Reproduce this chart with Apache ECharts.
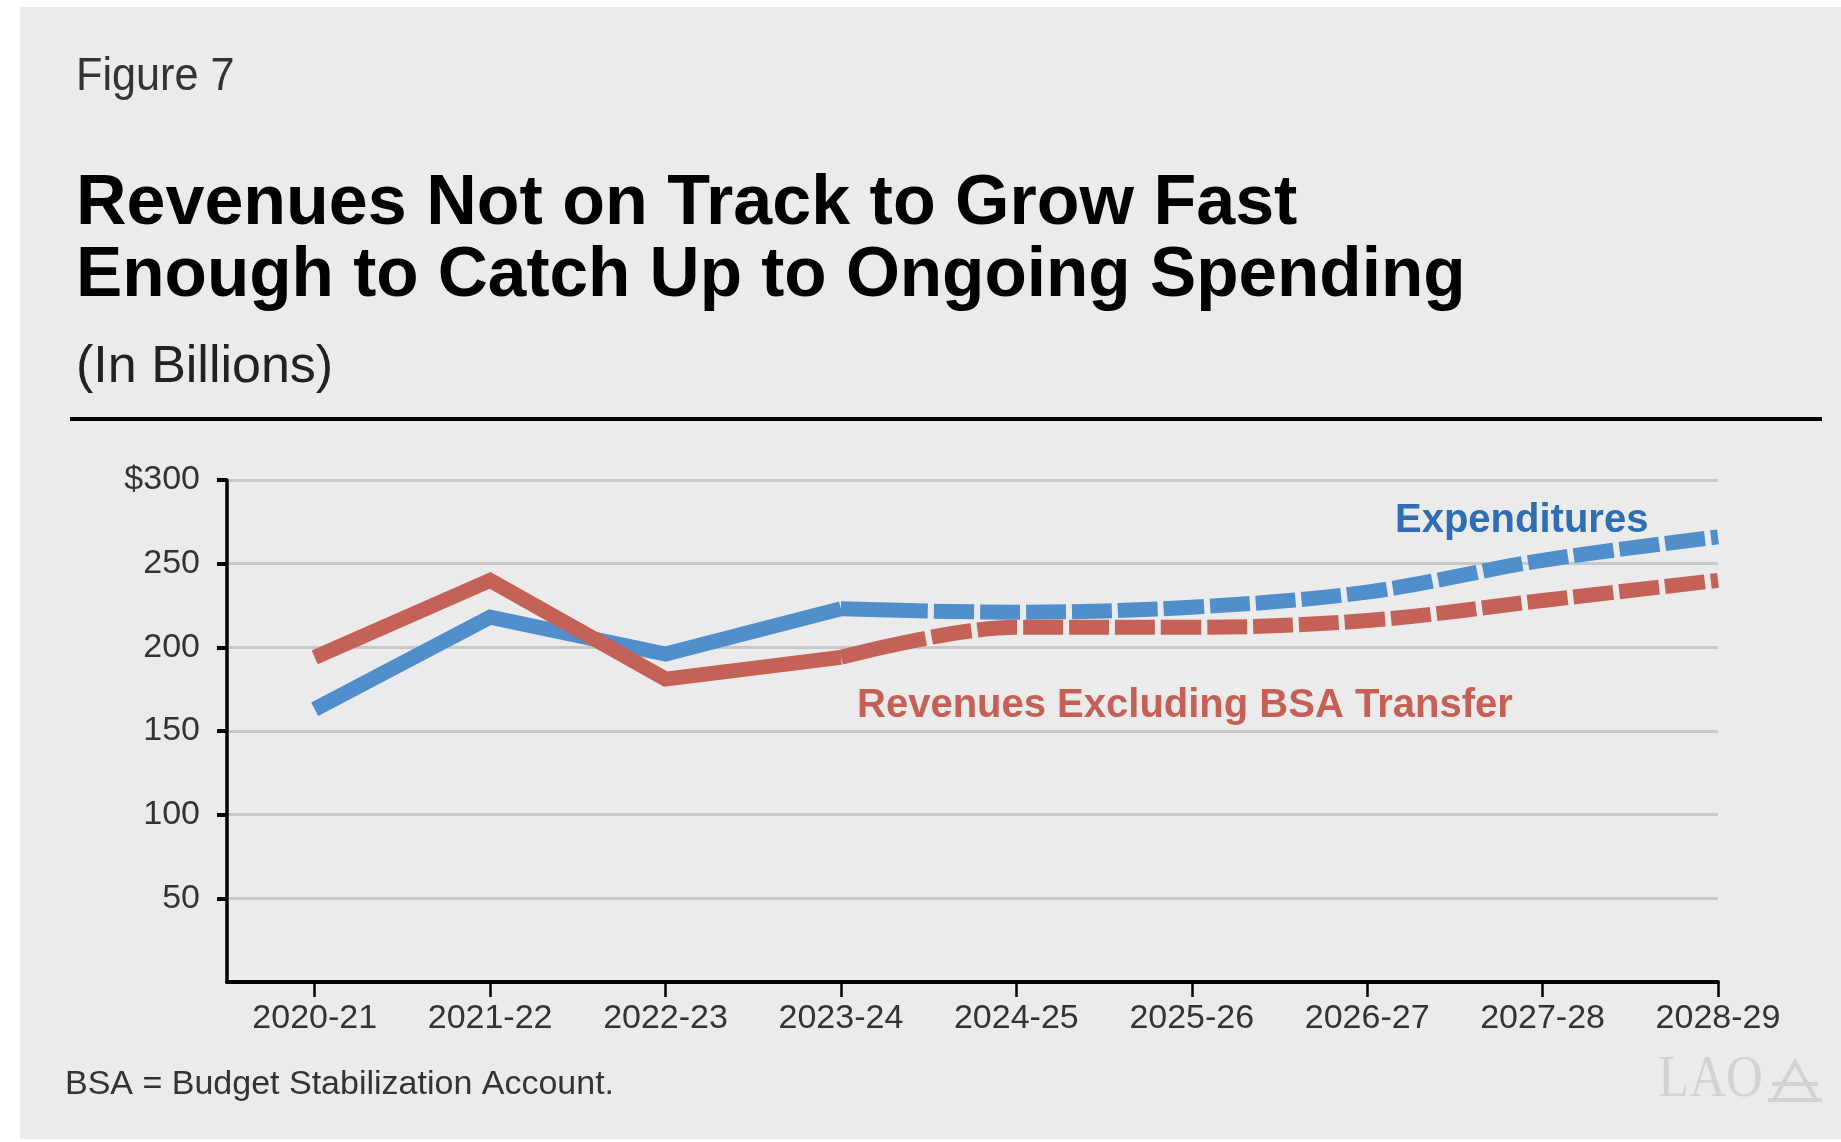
<!DOCTYPE html>
<html>
<head>
<meta charset="utf-8">
<script src="https://cdn.jsdelivr.net/npm/echarts@6/dist/echarts.min.js"></script>
<style>
html,body{margin:0;padding:0;background:#ffffff;}
#c{width:1841px;height:1142px;}
</style>
</head>
<body>
<div id="c"></div>
<script>
// ---- data ----
const categories = ['2020-21','2021-22','2022-23','2023-24','2024-25','2025-26','2026-27','2027-28','2028-29'];
const expenditures = [163, 218, 196, 223, 221, 224, 233, 252, 266];
const revenues = [194, 240, 181, 194, 212, 212, 216, 228, 240];
const yTickValues = [0, 50, 100, 150, 200, 250, 300];
const yTickLabels = ['', '50', '100', '150', '200', '250', '$300'];
const lastActualIndex = 3;

// ---- helpers ----
const toPairs = (arr, start, end) => arr.slice(start, end).map((v, i) => [i + start, v]);
const dashPattern = [87, 6];
for (let i = 0; i < 30; i++) dashPattern.push(40, 6);

const BLUE = '#508fcc';
const RED = '#c46258';
const FONT = '"Liberation Sans", Arial, Helvetica, sans-serif';

const chart = echarts.init(document.getElementById('c'), null, {renderer: 'canvas'});

const solidStyle = (color) => ({color: color, width: 15, cap: 'butt', join: 'miter'});
const dashStyle = (color) => ({color: color, width: 15, cap: 'butt', join: 'miter', type: dashPattern});

chart.setOption({
  animation: false,
  backgroundColor: '#ebebeb',
  grid: {left: 227, right: 123, top: 480, bottom: 160, containLabel: false},
  xAxis: {
    type: 'value',
    min: -0.5,
    max: 8,
    axisLine: {show: true, onZero: false, lineStyle: {color: '#000', width: 4}},
    axisTick: {show: true, customValues: categories.map((c, i) => i), length: 15, lineStyle: {color: '#000', width: 2.5}},
    axisLabel: {
      show: true,
      customValues: categories.map((c, i) => i),
      formatter: (v) => categories[Math.round(v)] || '',
      fontFamily: FONT, fontSize: 34, color: '#333', margin: 20
    },
    splitLine: {show: false}
  },
  yAxis: {
    type: 'value',
    position: 'left',
    min: 0,
    max: 300,
    interval: 50,
    axisLine: {show: true, onZero: false, lineStyle: {color: '#000', width: 3.5}},
    axisTick: {show: true, customValues: yTickValues.slice(1), length: 10, lineStyle: {color: '#000', width: 4}},
    axisLabel: {
      formatter: (v) => yTickLabels[yTickValues.indexOf(v)] ?? '',
      fontFamily: FONT, fontSize: 34, color: '#333', margin: 27
    },
    splitLine: {show: true, lineStyle: {color: '#c8c8c8', width: 3}}
  },
  series: [
    {name: 'Expenditures', type: 'line', symbol: 'none', data: toPairs(expenditures, 0, lastActualIndex + 1), lineStyle: solidStyle(BLUE), z: 3},
    {name: 'Expenditures projected', type: 'line', symbol: 'none', smooth: 0.35, data: toPairs(expenditures, lastActualIndex, expenditures.length), lineStyle: dashStyle(BLUE), z: 3},
    {name: 'Revenues', type: 'line', symbol: 'none', data: toPairs(revenues, 0, lastActualIndex + 1), lineStyle: solidStyle(RED), z: 4},
    {name: 'Revenues projected', type: 'line', symbol: 'none', smooth: 0.35, data: toPairs(revenues, lastActualIndex, revenues.length), lineStyle: dashStyle(RED), z: 4}
  ],
  graphic: {
    elements: [
      // white page margins
      {type: 'rect', shape: {x: 0, y: 0, width: 1841, height: 7}, style: {fill: '#ffffff'}},
      {type: 'rect', shape: {x: 0, y: 0, width: 20, height: 1142}, style: {fill: '#ffffff'}},
      {type: 'rect', shape: {x: 0, y: 1139, width: 1841, height: 3}, style: {fill: '#ffffff'}},
      // header texts
      {type: 'text', x: 76, y: 77, scaleX: 0.92, style: {text: 'Figure 7', fontFamily: FONT, fontSize: 47, fill: '#333', verticalAlign: 'middle'}},
      {type: 'text', x: 76, y: 205, style: {text: 'Revenues Not on Track to Grow Fast', fontFamily: FONT, fontSize: 70, fontWeight: 'bold', fill: '#000', verticalAlign: 'middle'}},
      {type: 'text', x: 76, y: 277, scaleX: 0.99, style: {text: 'Enough to Catch Up to Ongoing Spending', fontFamily: FONT, fontSize: 70, fontWeight: 'bold', fill: '#000', verticalAlign: 'middle'}},
      {type: 'text', x: 76, y: 368, style: {text: '(In Billions)', fontFamily: FONT, fontSize: 52, fill: '#222', verticalAlign: 'middle'}},
      {type: 'rect', shape: {x: 70, y: 417, width: 1752, height: 4}, style: {fill: '#000'}},
      // series labels
      {type: 'text', x: 1395, y: 521, style: {text: 'Expenditures', fontFamily: FONT, fontSize: 40, fontWeight: 'bold', fill: '#2f6db5', verticalAlign: 'middle'}},
      {type: 'text', x: 857, y: 706, style: {text: 'Revenues Excluding BSA Transfer', fontFamily: FONT, fontSize: 40, fontWeight: 'bold', fill: '#c65f56', verticalAlign: 'middle'}},
      // footnote
      {type: 'text', x: 65, y: 1085, style: {text: 'BSA = Budget Stabilization Account.', fontFamily: FONT, fontSize: 34, fill: '#333', verticalAlign: 'middle'}},
      // LAO logo
      {type: 'text', x: 1658, y: 1080, scaleX: 0.85, style: {text: 'LAO', fontFamily: '"Liberation Serif", "DejaVu Serif", serif', fontSize: 60, fill: '#d3d3d3', verticalAlign: 'middle'}},
      {type: 'polyline', shape: {points: [[1774, 1100], [1795, 1062], [1816, 1100]]}, style: {stroke: '#d3d3d3', lineWidth: 4, fill: 'none'}},
      {type: 'line', shape: {x1: 1772, y1: 1084, x2: 1818, y2: 1084}, style: {stroke: '#d3d3d3', lineWidth: 4}},
      {type: 'line', shape: {x1: 1768, y1: 1100, x2: 1822, y2: 1100}, style: {stroke: '#d3d3d3', lineWidth: 4}}
    ]
  }
});
</script>
</body>
</html>
